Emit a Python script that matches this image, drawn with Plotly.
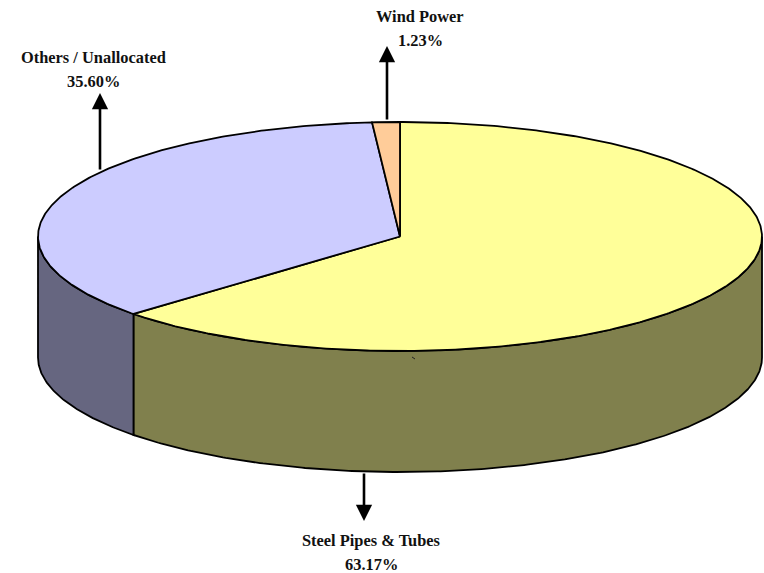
import numpy as np
import plotly.graph_objects as go

categories = ["Steel Pipes & Tubes", "Others / Unallocated", "Wind Power"]
shares = [63.17, 35.60, 1.23]
top_colors = ["#FFFF99", "#CCCCFF", "#FFCC99"]
side_colors = ["#80804D", "#666680", "#806650"]

W, H = 764, 573
CX, CY, RX, RY, DEPTH = 400, 236.5, 362, 114.5, 121
FONT = dict(family="Liberation Serif", size=16.4, color="#111111")


def rim(a0, a1, drop=0.0):
    t = np.radians(np.linspace(a0, a1, max(int(abs(a1 - a0) * 2), 2)))
    return CX + RX * np.sin(t), CY - RY * np.cos(t) + drop


fig = go.Figure()
edges = np.concatenate([[0], np.cumsum(shares)]) / sum(shares) * 360

# side wall: only the front half of the cylinder (90..270 deg) is visible
for name, a0, a1, col in zip(categories, edges[:-1], edges[1:], side_colors):
    s0, s1 = max(a0, 90), min(a1, 270)
    if s1 <= s0:
        continue
    xt, yt = rim(s0, s1)
    xb, yb = rim(s1, s0, DEPTH)
    fig.add_trace(go.Scatter(
        x=np.r_[xt, xb, xt[0]], y=np.r_[yt, yb, yt[0]], mode="lines",
        fill="toself", fillcolor=col, line=dict(color="black", width=1.8),
        hoverinfo="skip", showlegend=False))

# top face
for name, val, a0, a1, col in zip(categories, shares, edges[:-1], edges[1:], top_colors):
    xr, yr = rim(a0, a1)
    fig.add_trace(go.Scatter(
        x=np.r_[CX, xr, CX], y=np.r_[CY, yr, CY], mode="lines",
        fill="toself", fillcolor=col, line=dict(color="black", width=1.8),
        name=name, text=f"{val:.2f}%", hoverinfo="name+text", showlegend=False))

# callouts: (category index, label x, label y, arrow x, arrow tail y, arrow tip y)
callouts = [
    (0, 371, 540, 364, 472, 521),
    (1, 93, 57, 100, 171, 93),
    (2, 420, 16, 387, 121, 46),
]
for i, lx, ly, ax, y0, y1 in callouts:
    fig.add_annotation(x=ax, y=y1, ax=ax, ay=y0, xref="x", yref="y", axref="x", ayref="y",
                       text="", showarrow=True, arrowhead=2, arrowsize=1.25, arrowwidth=2.6,
                       arrowcolor="black", standoff=0, startstandoff=0)
    for txt, yy in ((categories[i], ly), (f"{shares[i]:.2f}%", ly + 24)):
        fig.add_annotation(x=lx, y=yy, xref="x", yref="y", text=f"<b>{txt}</b>",
                           showarrow=False, font=FONT, xanchor="center", yanchor="middle")

# tiny stray mark on the front wall of the source picture
fig.add_shape(type="line", x0=412, y0=357, x1=415, y1=359, xref="x", yref="y",
              line=dict(color="#222222", width=1))

fig.update_layout(
    width=W, height=H, autosize=False, margin=dict(l=0, r=0, t=0, b=0),
    paper_bgcolor="white", plot_bgcolor="white",
    xaxis=dict(range=[0, W], visible=False, fixedrange=True),
    yaxis=dict(range=[H, 0], visible=False, fixedrange=True),
)
fig.write_html("out.html", config={"displayModeBar": False},
               post_script="document.body.style.margin='0';")
